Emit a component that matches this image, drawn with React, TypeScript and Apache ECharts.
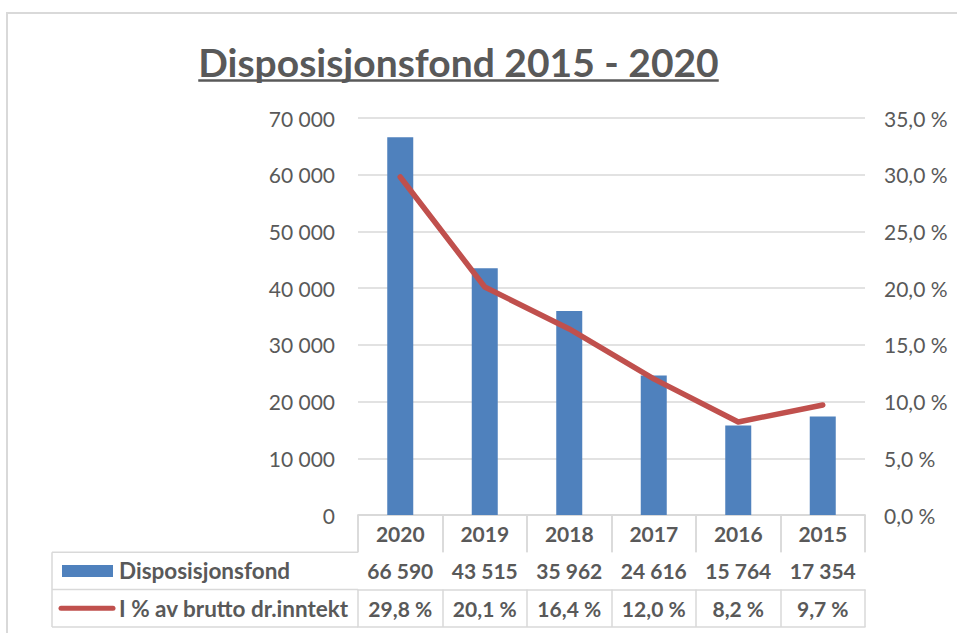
import React, { useEffect, useRef } from "react";
import * as echarts from "echarts";

const categories = ["2020", "2019", "2018", "2017", "2016", "2015"];
const fondValues = [66590, 43515, 35962, 24616, 15764, 17354];
const pctValues = [29.8, 20.1, 16.4, 12.0, 8.2, 9.7];
const seriesNames = ["Disposisjonsfond", "I % av brutto dr.inntekt"];
const titleText = "Disposisjonsfond 2015 - 2020";

const W = 957;
const H = 633;
const GRID_LEFT = 358;
const GRID_RIGHT = 865;
const GRID_TOP = 118;
const GRID_BOTTOM = 515;
const ROW_H = 37.3;
const LEG_LEFT = 52;
const FONT = "Lato, Carlito, Calibri, sans-serif";
const TXT = "#595959";
const LINE = "#d9d9d9";
const BLUE = "#4F81BD";
const RED = "#C0504D";

const fmtNum = (n: number) => String(n).replace(/\B(?=(\d{3})+(?!\d))/g, " ");
const fmtPct = (n: number) => n.toFixed(1).replace(".", ",") + " %";

function measure(text: string, font: string) {
  const c = document.createElement("canvas").getContext("2d");
  if (!c) return text.length * 18;
  c.font = font;
  return c.measureText(text).width;
}

export default function App() {
  const ref = useRef<HTMLDivElement>(null);
  useEffect(() => {
    if (!ref.current) return;
    const chart = echarts.init(ref.current, null, { renderer: "svg" });
    const titleSize = 39;
    const tw = measure(titleText, `bold ${titleSize}px ${FONT}`);
    const tcx = 458.5;
    const rowLines = [1, 2, 3].map((i) => GRID_BOTTOM + ROW_H * i);

    const labelBase = {
      fontFamily: FONT,
      fontSize: 21,
      fontWeight: "bold" as const,
      color: TXT,
      lineHeight: 21,
      margin: 8,
      interval: 0,
    };
    const tick = { show: true, interval: 0, length: ROW_H, lineStyle: { color: LINE, width: 1.5 } };
    const axisLine = { show: true, lineStyle: { color: LINE, width: 1.5 } };

    const option: any = {
      animation: false,
      backgroundColor: "#ffffff",
      grid: {
        left: GRID_LEFT,
        right: W - GRID_RIGHT,
        top: GRID_TOP,
        bottom: H - GRID_BOTTOM,
        containLabel: false,
      },
      xAxis: [
        {
          type: "category",
          data: categories,
          position: "bottom",
          axisLine,
          axisTick: tick,
          axisLabel: { ...labelBase },
        },
        {
          type: "category",
          data: categories,
          position: "bottom",
          offset: ROW_H,
          axisLine,
          axisTick: tick,
          axisLabel: { ...labelBase, formatter: (_v: string, i: number) => fmtNum(fondValues[i]) },
        },
        {
          type: "category",
          data: categories,
          position: "bottom",
          offset: ROW_H * 2,
          axisLine,
          axisTick: tick,
          axisLabel: { ...labelBase, formatter: (_v: string, i: number) => fmtPct(pctValues[i]) },
        },
        {
          type: "category",
          data: categories,
          position: "bottom",
          offset: ROW_H * 3,
          axisLine,
          axisTick: { show: false },
          axisLabel: { show: false },
        },
      ],
      yAxis: [
        {
          type: "value",
          min: 0,
          max: 70000,
          interval: 10000,
          axisLine: { show: false },
          axisTick: { show: false },
          splitLine: { lineStyle: { color: LINE, width: 1.5 } },
          axisLabel: {
            fontFamily: FONT,
            fontSize: 21,
            color: TXT,
            margin: 23,
            formatter: (v: number) => fmtNum(v),
          },
        },
        {
          type: "value",
          min: 0,
          max: 35,
          interval: 5,
          position: "right",
          axisLine: { show: false },
          axisTick: { show: false },
          splitLine: { show: false },
          axisLabel: {
            fontFamily: FONT,
            fontSize: 21,
            color: TXT,
            margin: 19,
            formatter: (v: number) => fmtPct(v),
          },
        },
      ],
      series: [
        {
          name: seriesNames[0],
          type: "bar",
          data: fondValues,
          xAxisIndex: 0,
          yAxisIndex: 0,
          barWidth: 26,
          itemStyle: { color: BLUE },
        },
        {
          name: seriesNames[1],
          type: "line",
          data: pctValues,
          xAxisIndex: 0,
          yAxisIndex: 1,
          showSymbol: false,
          symbol: "none",
          lineStyle: { color: RED, width: 5.5, cap: "round", join: "round" },
          itemStyle: { color: RED },
        },
      ],
      graphic: [
        {
          type: "rect",
          silent: true,
          shape: { x: 7, y: 13, width: 1200, height: 900 },
          style: { fill: "none", stroke: LINE, lineWidth: 2 },
        },
        {
          type: "text",
          x: tcx,
          y: 62,
          style: {
            text: titleText,
            fontFamily: FONT,
            fontSize: titleSize,
            fontWeight: "bold",
            fill: TXT,
            textAlign: "center",
            textVerticalAlign: "middle",
          },
        },
        {
          type: "line",
          shape: { x1: tcx - tw / 2, y1: 80.5, x2: tcx + tw / 2, y2: 80.5 },
          style: { stroke: TXT, lineWidth: 2.5 },
        },
        // legend column of the data table
        ...rowLines.map((y) => ({
          type: "line",
          shape: { x1: LEG_LEFT, y1: y, x2: GRID_LEFT, y2: y },
          style: { stroke: LINE, lineWidth: 1.5 },
        })),
        {
          type: "line",
          shape: { x1: LEG_LEFT, y1: rowLines[0], x2: LEG_LEFT, y2: rowLines[2] },
          style: { stroke: LINE, lineWidth: 1.5 },
        },
        {
          type: "rect",
          shape: { x: 62, y: rowLines[0] + ROW_H / 2 - 6, width: 51, height: 12 },
          style: { fill: BLUE },
        },
        {
          type: "line",
          shape: { x1: 61, y1: rowLines[1] + ROW_H / 2, x2: 113, y2: rowLines[1] + ROW_H / 2 },
          style: { stroke: RED, lineWidth: 5, lineCap: "round" },
        },
        {
          type: "text",
          x: 119,
          y: rowLines[0] + ROW_H / 2,
          style: {
            text: seriesNames[0],
            fontFamily: FONT,
            fontSize: 22.5,
            fontWeight: "bold",
            fill: TXT,
            textAlign: "left",
            textVerticalAlign: "middle",
          },
        },
        {
          type: "text",
          x: 119,
          y: rowLines[1] + ROW_H / 2,
          style: {
            text: seriesNames[1],
            fontFamily: FONT,
            fontSize: 22.5,
            fontWeight: "bold",
            fill: TXT,
            textAlign: "left",
            textVerticalAlign: "middle",
          },
        },
      ],
    };
    chart.setOption(option);
    return () => chart.dispose();
  }, []);
  return (
    <div
      ref={ref}
      style={{ position: "fixed", left: 0, top: 0, width: W, height: H, background: "#fff" }}
    />
  );
}
